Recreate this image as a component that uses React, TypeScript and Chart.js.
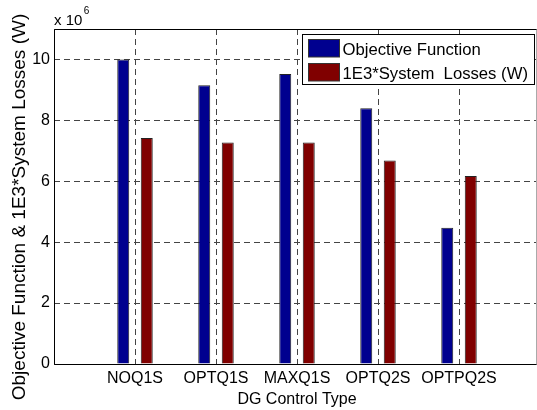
import { useEffect, useRef } from "react";
import { Chart, registerables } from "chart.js";

Chart.register(...registerables);

// ---- data ----
const categories = ["NOQ1S", "OPTQ1S", "MAXQ1S", "OPTQ2S", "OPTPQ2S"];
const objectiveFunction = [10.0, 9.15, 9.52, 8.4, 4.47];
const systemLosses = [7.42, 7.27, 7.27, 6.68, 6.17];
const yTicks = [0, 2, 4, 6, 8, 10];
const seriesLabels = ["Objective Function", "1E3*System  Losses (W)"];
const seriesColors = ["#00008F", "#800000"];
const xTitle = "DG Control Type";
const yTitle = "Objective Function & 1E3*System Losses (W)";
const exponentBase = "x 10";
const exponentPower = "6";

const FONT = "'Liberation Sans', Arial, Helvetica, sans-serif";

const boxLegendPlugin = {
  id: "boxLegend",
  afterDraw(chart: any) {
    const { ctx, chartArea } = chart;
    const L = Math.round(chartArea.left) + 0.5;
    const T = Math.round(chartArea.top) + 0.5;
    const R = Math.round(chartArea.right) - 0.5;
    const B = Math.round(chartArea.bottom) + 0.5;
    ctx.save();
    ctx.setLineDash([]);
    ctx.strokeStyle = "#000";
    ctx.lineWidth = 1;
    ctx.beginPath();
    ctx.moveTo(R, B);
    ctx.lineTo(L, B);
    ctx.lineTo(L, T);
    ctx.lineTo(R, T);
    ctx.stroke();
    // right edge of the axes box sits at the very edge of the picture (partly clipped)
    ctx.strokeStyle = "#aaa";
    ctx.beginPath();
    ctx.moveTo(R - 3, T);
    ctx.lineTo(R - 3, B);
    ctx.stroke();

    // y axis title
    ctx.save();
    ctx.fillStyle = "#000";
    ctx.font = `19px ${FONT}`;
    ctx.textAlign = "center";
    ctx.textBaseline = "alphabetic";
    ctx.translate(25, (chartArea.top + chartArea.bottom) / 2 + 10.5);
    ctx.rotate(-Math.PI / 2);
    ctx.fillText(yTitle, 0, 0);
    ctx.restore();

    // exponent label
    ctx.fillStyle = "#000";
    ctx.textAlign = "left";
    ctx.textBaseline = "alphabetic";
    ctx.font = `15px ${FONT}`;
    ctx.fillText(exponentBase, chartArea.left, chartArea.top - 4);
    const w = ctx.measureText(exponentBase).width;
    ctx.font = `10px ${FONT}`;
    ctx.fillText(exponentPower, chartArea.left + w + 1.5, chartArea.top - 15);

    // legend
    ctx.font = `16.7px ${FONT}`;
    const swW = 31;
    const swH = 17.5;
    const padL = 5.5;
    const gap = 3.5;
    const boxLeft = Math.round(chartArea.left + 247.5) + 0.5;
    const boxRight = Math.round(chartArea.right - 6) + 0.5;
    const boxTop = Math.round(chartArea.top + 5) + 0.5;
    const rowH = 23.5;
    const boxH = 50;
    ctx.fillStyle = "#fff";
    ctx.fillRect(boxLeft, boxTop, boxRight - boxLeft, boxH);
    ctx.strokeStyle = "#000";
    ctx.strokeRect(boxLeft, boxTop, boxRight - boxLeft, boxH);
    seriesLabels.forEach((label, i) => {
      const cy = boxTop + 13.5 + i * rowH;
      const sx = Math.round(boxLeft + padL) + 0.5;
      const sy = Math.round(cy - swH / 2) + 0.5;
      ctx.fillStyle = seriesColors[i];
      ctx.fillRect(sx, sy, swW, swH);
      ctx.strokeStyle = "#333";
      ctx.strokeRect(sx, sy, swW, swH);
      ctx.fillStyle = "#000";
      ctx.textBaseline = "alphabetic";
      ctx.fillText(label, boxLeft + padL + swW + gap, cy + 7);
    });
    ctx.restore();
  },
};

export default function App() {
  const ref = useRef<HTMLCanvasElement | null>(null);

  useEffect(() => {
    if (!ref.current) return;
    const labels = ["", ...categories, ""];
    const chart = new Chart(ref.current, {
      type: "bar",
      data: {
        labels,
        datasets: [
          {
            label: seriesLabels[0],
            data: [null, ...objectiveFunction, null],
            backgroundColor: seriesColors[0],
            borderColor: "#222",
            borderWidth: 1,
            categoryPercentage: 0.58,
            barPercentage: 0.51,
          },
          {
            label: seriesLabels[1],
            data: [null, ...systemLosses, null],
            backgroundColor: seriesColors[1],
            borderColor: "#222",
            borderWidth: 1,
            categoryPercentage: 0.58,
            barPercentage: 0.51,
          },
        ],
      },
      options: {
        animation: false,
        responsive: false,
        maintainAspectRatio: false,
        layout: { padding: { top: 29, right: 0, left: 0, bottom: 0 } },
        plugins: {
          legend: { display: false },
          tooltip: { enabled: false },
        },
        scales: {
          x: {
            type: "category",
            offset: false,
            grid: { color: "#444", lineWidth: 1, drawTicks: false, offset: false },
            border: { display: false, dash: [6, 4] },
            ticks: {
              color: "#000",
              font: { family: FONT, size: 16 },
              padding: 5,
              autoSkip: false,
              maxRotation: 0,
              minRotation: 0,
            },
            title: {
              display: true,
              text: xTitle,
              color: "#000",
              font: { family: FONT, size: 16 },
              padding: { top: 0, bottom: 1 },
            },
            afterFit: (s: any) => {
              s.height = 46;
              s.paddingRight = 0;
              s.paddingLeft = 0;
            },
          },
          y: {
            min: 0,
            max: 11,
            grid: { color: "#444", lineWidth: 1, drawTicks: false },
            border: { display: false, dash: [6, 4] },
            ticks: {
              color: "#000",
              font: { family: FONT, size: 16 },
              padding: 4,
            },
            afterBuildTicks: (s: any) => {
              s.ticks = yTicks.map((v) => ({ value: v }));
            },
            title: { display: false },
            afterFit: (s: any) => {
              s.width = 54;
              s.paddingTop = 0;
              s.paddingBottom = 0;
            },
          },
        },
      },
      plugins: [boxLegendPlugin],
    });
    return () => chart.destroy();
  }, []);

  return (
    <div
      style={{
        position: "absolute",
        left: 0,
        top: 0,
        width: 537,
        height: 410,
        overflow: "hidden",
        background: "#fff",
      }}
    >
      <canvas ref={ref} width={540} height={410} style={{ width: 540, height: 410, display: "block" }} />
    </div>
  );
}
